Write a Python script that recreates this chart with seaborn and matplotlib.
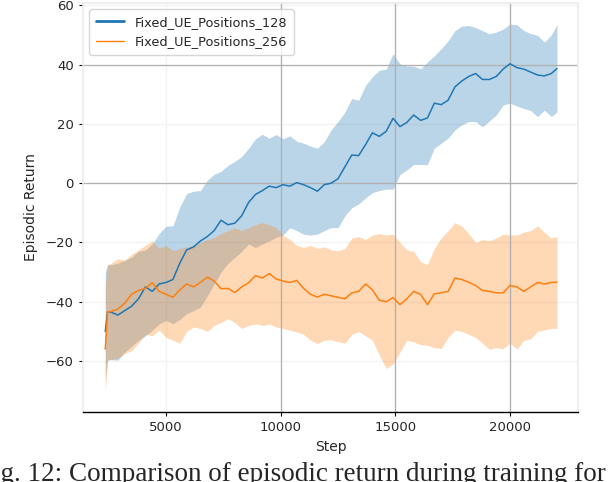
import numpy as np
import pandas as pd
import matplotlib
matplotlib.use("Agg")
import matplotlib.pyplot as plt
import seaborn as sns

# ---- data ----
steps = [2350, 2450] + list(range(2600, 21801, 300)) + [22050]

ue128_mean = [-50, -43.5, -43.5, -44.5, -43, -41.5, -39, -35, -36.5, -34, -33.5, -32.5,
              -27, -22.5, -21.5, -19.5, -18, -16, -12.5, -14, -13.5, -11, -6.5, -3.8,
              -2.5, -1, -1.5, -0.5, -1, 0.2, -0.5, -1.5, -2.7, -0.5, 0, 1.5,
              5.5, 9.5, 9.3, 13, 17, 15.8, 17.5, 21.9, 19.1, 20.5, 23, 21.2,
              22, 27, 26.5, 28, 32.5, 34.5, 36, 37, 35, 35, 36, 38.5,
              40.3, 39, 38.5, 37.5, 36.5, 36.2, 37, 38.7]
ue128_upper = [-30, -27.5, -27.5, -27, -26, -25, -23, -22.5, -20.5, -17, -14.5, -14.4,
               -8, -3.5, -2.7, -2.5, 1, 3, 4, 6, 7.4, 9, 11.8, 15,
               16.5, 15.2, 16.4, 15, 16, 14.1, 13.5, 12.5, 11.8, 14, 18, 20.8,
               24, 28.6, 28, 33, 35.9, 38.1, 38.5, 43.7, 40.3, 39.5, 39.5, 38.6,
               40.9, 43, 45.4, 48, 51.5, 53, 53.2, 52.5, 51.5, 50.4, 51, 52,
               53.7, 53.5, 51.5, 50.5, 49.9, 47.6, 50, 53.5]
ue128_lower = [-66, -59.7, -59.5, -59.7, -57, -55, -53, -51.5, -49.6, -47.5, -46.3, -47.4,
               -46, -44, -43, -41.8, -38, -34, -30, -27, -25, -23, -20.5, -21.7,
               -20.5, -19.5, -18.3, -17.5, -15, -16, -17.2, -17.5, -17.2, -16, -15, -15,
               -11, -8.3, -7, -5, -3.2, -2.5, -2, -2, 2.9, 4.5, 6.3, 6.3,
               6.3, 11.8, 13.5, 15.2, 18, 19.7, 20.8, 20.8, 19, 21, 23, 26.4,
               27, 26, 25.2, 24.5, 22.5, 24.6, 22.5, 24]

ue256_mean = [-56, -43.5, -43.3, -42.5, -40.5, -37.5, -36.2, -35.5, -33.6, -36.5, -37.5, -38.5,
              -36, -34, -35, -33.5, -31.7, -33, -35.6, -35.5, -36.9, -35, -33.6, -31.2,
              -32, -30.5, -32.3, -33, -33.5, -32.8, -35.5, -37.5, -38.4, -37.5, -38, -38.5,
              -39, -37, -36.5, -34, -36, -39.5, -40, -38.6, -41, -39, -36.5, -37.5,
              -41, -37.3, -37, -36.5, -32, -32.5, -33.4, -34.5, -36.2, -36.5, -37, -37,
              -34.5, -35, -36.5, -35, -33.5, -34, -33.5, -33.4]
ue256_upper = [-35, -27.5, -27, -25.5, -26, -24, -22.5, -21, -19.5, -22, -21, -22.8,
               -22, -21.5, -21, -20, -19, -18.3, -17, -16, -15, -16, -15, -14,
               -13.3, -14, -15, -17.5, -19, -21, -21.7, -21, -22, -21.5, -22.5, -22.8,
               -22, -18.5, -18, -19, -17.5, -17, -17.5, -17.2, -20, -22.5, -23, -26.5,
               -27.5, -22, -18.5, -16, -13.3, -14.5, -17, -20, -19, -19.4, -18.5, -17.2,
               -17.5, -17.5, -16.5, -16, -14.4, -16.5, -18.5, -18]
ue256_lower = [-71, -59.7, -59.5, -59, -57.5, -56.5, -54, -51, -51.5, -49.6, -52, -53,
               -54, -50, -48.5, -49, -50, -48, -47, -45.7, -47, -49, -48, -47.4,
               -48, -47.5, -48.5, -49, -49.6, -50.2, -51, -53, -54.1, -53, -52.8, -53.5,
               -54, -51, -50, -51.5, -53, -58, -62.5, -61, -57, -53, -53.5, -54.5,
               -54.7, -55.5, -55.8, -52, -49.6, -50, -51, -52, -54, -56, -55.5, -55.8,
               -54, -56, -53, -52.5, -50, -49.5, -49, -49]

run_names = ["Fixed_UE_Positions_128", "Fixed_UE_Positions_256"]
run_colors = ["#1f77b4", "#ff7f0e"]

# strong reference lines that sit on top of the faint grid
ref_steps = [10000, 15000, 20000]
ref_returns = [0, 40]

df = pd.concat([
    pd.DataFrame({"Step": steps, "Return": ue128_mean, "Run": run_names[0]}),
    pd.DataFrame({"Step": steps, "Return": ue256_mean, "Run": run_names[1]}),
])

sns.set_style("white")
plt.rcParams['font.family'] = 'DejaVu Sans'

fig = plt.figure(figsize=(6.12, 4.82), dpi=100)
ax = fig.add_axes([83/612, 1 - 412/482, (578 - 83)/612, (412 - 3)/482])

ax.grid(True, color='#f3f3f3', lw=1.0)
ax.set_axisbelow(True)

ax.fill_between(steps, ue128_lower, ue128_upper, color=run_colors[0], alpha=0.3, lw=0, zorder=1)
ax.fill_between(steps, ue256_lower, ue256_upper, color=run_colors[1], alpha=0.3, lw=0, zorder=1)

for s in ref_steps:
    ax.axvline(s, color='#b0b0b0', lw=0.9, zorder=1.5)
for r in ref_returns:
    ax.axhline(r, color='#b0b0b0', lw=0.9, zorder=1.5)

sns.lineplot(data=df, x="Step", y="Return", hue="Run", palette=run_colors,
             linewidth=1.1, ax=ax, zorder=2)

ax.set_xlim(1380, 22965)
ax.set_ylim(-77.2, 60.8)
ax.set_xticks([5000, 10000, 15000, 20000])
ax.set_yticks([-60, -40, -20, 0, 20, 40, 60])
ax.tick_params(axis='both', labelsize=9.5, length=3, width=0.8, color='black',
               left=True, bottom=True)
ax.set_xlabel("Step", fontsize=10)
ax.set_ylabel("Episodic Return", fontsize=10, labelpad=6)

for side in ['top', 'right', 'left']:
    ax.spines[side].set_color('#ececec')
    ax.spines[side].set_linewidth(1.2)
ax.spines['bottom'].set_color('black')
ax.spines['bottom'].set_linewidth(1.0)

handles, labels = ax.get_legend_handles_labels()
leg = ax.legend(handles, labels, loc='upper left', fontsize=9.3, frameon=True,
                borderpad=0.5, handlelength=2.2)
leg.get_lines()[0].set_linewidth(2.0)
leg.get_lines()[1].set_linewidth(1.0)

fig.text(-0.036, 1 - 462/482, "Fig. 12: Comparison of episodic return during training for the",
         family='Liberation Serif', fontsize=19.5, va='top', ha='left')

fig.savefig("out.png", dpi=100)
